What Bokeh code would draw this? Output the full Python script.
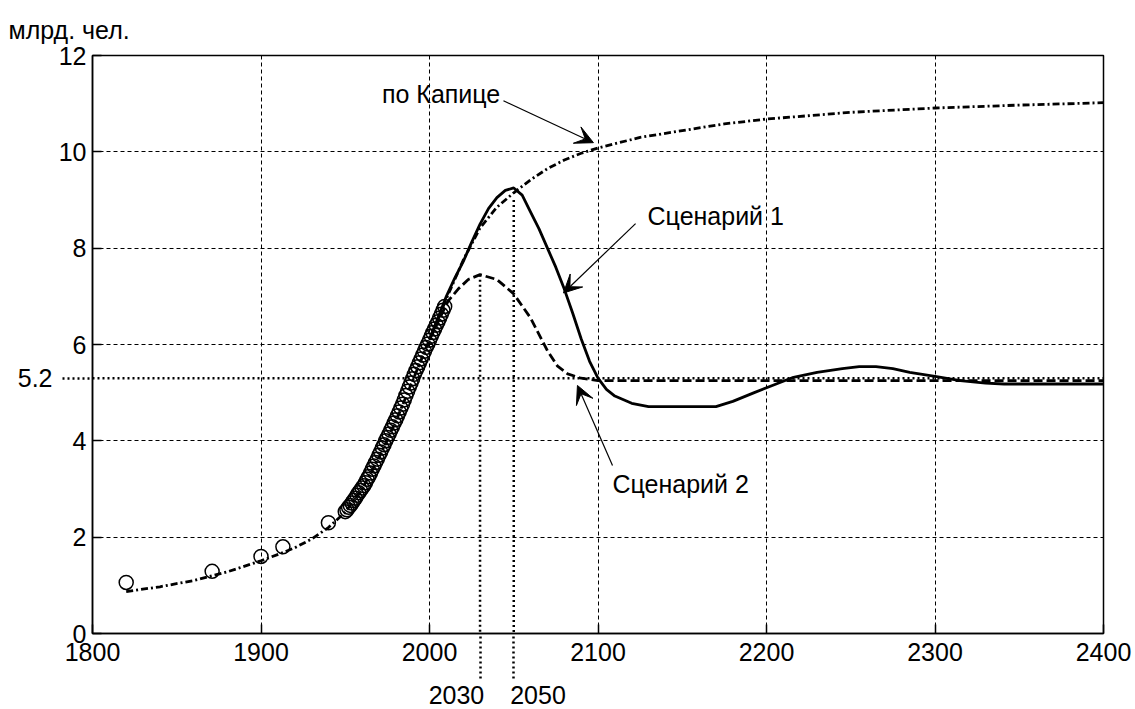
from bokeh.plotting import figure
from bokeh.models import Range1d, FixedTicker, LinearAxis, Label, Arrow, VeeHead
from bokeh.embed import file_html
from bokeh.resources import INLINE

# ---------------- data ----------------
x_ticks = [1800, 1900, 2000, 2100, 2200, 2300, 2400]
y_ticks = [0, 2, 4, 6, 8, 10, 12]

# observed world population (circles)
obs_years = [1820, 1871, 1900, 1913, 1940] + list(range(1950, 2010))
obs_values = [1.06, 1.29, 1.60, 1.80, 2.30,
              2.53, 2.57, 2.62, 2.66, 2.71, 2.76, 2.81, 2.87, 2.92, 2.97,
              3.02, 3.07, 3.13, 3.20, 3.26, 3.33, 3.41, 3.48, 3.55, 3.62,
              3.70, 3.77, 3.85, 3.92, 4.00, 4.07, 4.14, 4.22, 4.29, 4.37,
              4.44, 4.52, 4.60, 4.68, 4.76, 4.85, 4.94, 5.03, 5.12, 5.20,
              5.29, 5.38, 5.46, 5.54, 5.62, 5.70, 5.78, 5.86, 5.94, 6.01,
              6.09, 6.17, 6.25, 6.32, 6.40, 6.47, 6.55, 6.63, 6.71, 6.79]

# Kapitsa model (dash-dot)
kap_years = [1820, 1840, 1860, 1880, 1900, 1913, 1920, 1930, 1940, 1950, 1960,
             1970, 1980, 1990, 2000, 2010, 2020, 2030, 2040, 2050, 2060, 2070,
             2080, 2090, 2100, 2125, 2150, 2175, 2200, 2250, 2300, 2350, 2400]
kap_values = [0.87, 0.97, 1.10, 1.28, 1.51, 1.68, 1.78, 1.96, 2.20, 2.52, 3.00,
              3.65, 4.40, 5.25, 6.10, 6.95, 7.75, 8.42, 8.85, 9.15, 9.42, 9.65,
              9.83, 9.97, 10.08, 10.30, 10.44, 10.58, 10.68, 10.82, 10.91, 10.97, 11.02]

# Scenario 1 (solid)
s1_years = [2000, 2010, 2015, 2020, 2025, 2030, 2035, 2040, 2045, 2050, 2055,
            2060, 2065, 2070, 2075, 2080, 2085, 2090, 2095, 2100, 2105, 2110,
            2120, 2130, 2170, 2180, 2192, 2205, 2216, 2230, 2245, 2255, 2265,
            2275, 2285, 2300, 2315, 2330, 2341, 2400]
s1_values = [6.10, 7.00, 7.38, 7.72, 8.12, 8.50, 8.82, 9.05, 9.20, 9.25, 9.10,
             8.75, 8.40, 8.00, 7.60, 7.15, 6.65, 6.12, 5.65, 5.30, 5.07, 4.93,
             4.78, 4.71, 4.71, 4.82, 4.99, 5.17, 5.32, 5.42, 5.50, 5.54, 5.54,
             5.50, 5.42, 5.34, 5.25, 5.20, 5.18, 5.18]

# Scenario 2 (dashed)
s2_years = [2000, 2011, 2017, 2023, 2030, 2040, 2050, 2060, 2070, 2076, 2082,
            2090, 2100, 2400]
s2_values = [6.10, 6.90, 7.15, 7.35, 7.45, 7.35, 7.05, 6.55, 5.87, 5.55, 5.39,
             5.30, 5.25, 5.25]

# reference levels
ref_level = 5.3
ref_level_text = "5.2"
ref_years = [2030, 2050]
ref_tops = [7.45, 9.0]
ref_year_texts = ["2030", "2050"]
ref_year_label_pos = [2016.0, 2064.4]   # label centres (left / right of the lines)

unit_text = "млрд. чел."
ann_texts = ["по Капице", "Сценарий 1", "Сценарий 2"]
ann_text_x = [2042.0, 2129.4, 2108.6]
ann_text_y = [11.21, 8.66, 3.11]
ann_text_align = ["right", "left", "left"]
arrow_start = [(2043.9, 11.06), (2122.3, 8.51), (2108.6, 3.49)]
arrow_end = [(2097.3, 10.19), (2079.5, 7.07), (2087.8, 5.15)]

FONT = "Liberation Sans"
FS = "25px"

# ---------------- figure ----------------
p = figure(width=1135, height=709,
           x_range=Range1d(x_ticks[0], x_ticks[-1]),
           y_range=Range1d(y_ticks[0], y_ticks[-1]),
           output_backend="svg", toolbar_location=None,
           min_border_left=92, min_border_right=32,
           min_border_top=55, min_border_bottom=76,
           background_fill_color="white", border_fill_color="white",
           outline_line_color="black", outline_line_width=1.5,
           title=unit_text)

p.title.align = "left"
p.title.offset = -84
p.title.text_font = FONT
p.title.text_font_size = FS
p.title.text_font_style = "normal"
p.title.text_color = "black"
p.title.standoff = 23


def style_axis(ax, ticker, standoff):
    ax.ticker = ticker
    ax.axis_line_color = "black"
    ax.axis_line_width = 1.5
    ax.major_tick_in = 9
    ax.major_tick_out = 0
    ax.major_tick_line_color = "black"
    ax.major_tick_line_width = 1.5
    ax.major_label_standoff = standoff
    ax.major_label_text_font = FONT
    ax.major_label_text_font_size = FS
    ax.major_label_text_color = "black"


# main axes; the dotted reference lines continue outside the box as minor ticks
xa = p.xaxis[0]
style_axis(xa, FixedTicker(ticks=x_ticks, minor_ticks=ref_years), standoff=-36)
xa.minor_tick_in = 0
xa.minor_tick_out = 45
xa.minor_tick_line_color = "black"
xa.minor_tick_line_width = 2.5
xa.minor_tick_line_dash = "2 3"

ya = p.yaxis[0]
style_axis(ya, FixedTicker(ticks=y_ticks, minor_ticks=[ref_level]), standoff=-24)
ya.minor_tick_in = 0
ya.minor_tick_out = 30
ya.minor_tick_line_color = "black"
ya.minor_tick_line_width = 2.5
ya.minor_tick_line_dash = "2 3"

# label axes for the reference values
ref_x_ax = LinearAxis(ticker=FixedTicker(ticks=ref_year_label_pos, minor_ticks=[]),
                      major_label_overrides=dict(zip(ref_year_label_pos, ref_year_texts)))
ref_x_ax.axis_line_color = None
ref_x_ax.major_tick_line_color = None
ref_x_ax.minor_tick_line_color = None
ref_x_ax.major_label_standoff = 16
ref_x_ax.major_label_text_font = FONT
ref_x_ax.major_label_text_font_size = FS
ref_x_ax.major_label_text_color = "black"
p.add_layout(ref_x_ax, "below")

ref_y_ax = LinearAxis(ticker=FixedTicker(ticks=[ref_level], minor_ticks=[]),
                      major_label_overrides={ref_level: ref_level_text})
ref_y_ax.axis_line_color = None
ref_y_ax.major_tick_line_color = None
ref_y_ax.minor_tick_line_color = None
ref_y_ax.major_label_standoff = -3
ref_y_ax.major_label_text_font = FONT
ref_y_ax.major_label_text_font_size = FS
ref_y_ax.major_label_text_color = "black"
p.add_layout(ref_y_ax, "left")

for g, t in ((p.xgrid[0], x_ticks), (p.ygrid[0], y_ticks)):
    g.ticker = FixedTicker(ticks=t, minor_ticks=[])
    g.grid_line_color = "black"
    g.grid_line_width = 1
    g.grid_line_dash = "4 3"
    g.grid_line_alpha = 1.0

# curves
p.line(kap_years, kap_values, line_color="black", line_width=2.8, line_dash="7 3 2 3")
p.line(s1_years, s1_values, line_color="black", line_width=2.8)
p.line(s2_years, s2_values, line_color="black", line_width=2.8, line_dash="9 4")
p.scatter(obs_years, obs_values, marker="circle", size=14,
          fill_color=None, line_color="black", line_width=1.5)

# reference dotted lines inside the frame
p.add_layout(Arrow(end=None, x_start=x_ticks[0], y_start=ref_level,
                   x_end=x_ticks[-1], y_end=ref_level,
                   line_color="black", line_width=2.5, line_dash="2 3"))
for yr, top in zip(ref_years, ref_tops):
    p.add_layout(Arrow(end=None, x_start=yr, y_start=top, x_end=yr, y_end=y_ticks[0],
                       line_color="black", line_width=2.5, line_dash="2 3"))

# annotations with arrows
for t, tx, ty, al, st, en in zip(ann_texts, ann_text_x, ann_text_y, ann_text_align,
                                 arrow_start, arrow_end):
    p.add_layout(Label(x=tx, y=ty, text=t, text_align=al, text_baseline="middle",
                       text_font=FONT, text_font_size=FS, text_color="black"))
    p.add_layout(Arrow(end=VeeHead(size=18, fill_color="black", line_color="black"),
                       x_start=st[0], y_start=st[1], x_end=en[0], y_end=en[1],
                       line_color="black", line_width=1.2))

open("out.html", "w").write(file_html(p, INLINE))
